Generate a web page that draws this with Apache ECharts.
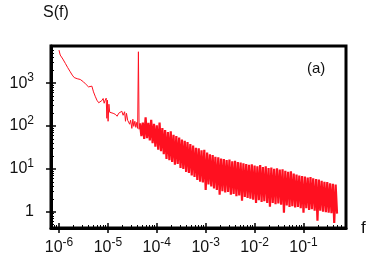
<!DOCTYPE html>
<html><head><meta charset="utf-8">
<style>html,body{margin:0;padding:0;background:#fff}#c{width:374px;height:263px}</style>
<script src="https://cdn.jsdelivr.net/npm/echarts@6/dist/echarts.min.js"></script>
</head><body><div id="c"></div>
<script>
// Low-frequency part of the spectrum (f, S(f))
const lowF = [1.00e-6, 1.06e-6, 1.20e-6, 1.35e-6, 1.51e-6, 1.70e-6, 1.87e-6, 2.05e-6, 2.36e-6, 2.72e-6,
  3.18e-6, 3.61e-6, 4.02e-6, 4.35e-6, 4.71e-6, 5.08e-6, 5.50e-6, 5.97e-6, 6.49e-6, 6.96e-6,
  7.47e-6, 8.01e-6, 8.40e-6, 8.81e-6, 9.23e-6, 9.54e-6, 9.81e-6, 1.01e-5, 1.05e-5, 1.09e-5,
  1.17e-5, 1.28e-5, 1.41e-5, 1.55e-5, 1.66e-5, 1.78e-5, 1.93e-5, 2.05e-5, 2.20e-5, 2.29e-5,
  2.40e-5, 2.54e-5, 2.66e-5, 2.79e-5, 2.92e-5, 3.09e-5, 3.24e-5, 3.39e-5, 3.56e-5, 3.73e-5,
  3.91e-5, 4.06e-5, 4.21e-5, 4.35e-5];
const lowS = [5900, 4530, 3650, 2890, 2300, 1840, 1540, 1350, 1270, 1220,
  1070, 922, 819, 873, 851, 626, 496, 400, 349, 335,
  389, 438, 340, 400, 446, 151, 400, 129, 322, 209,
  221, 198, 188, 169, 198, 178, 221, 178, 215, 129,
  198, 136, 151, 110, 136, 88, 144, 98, 129, 93,
  122, 88, 5400, 84];

// Noisy high-frequency band (f, S(f))
const bandF = [4.54e-5, 4.85e-5, 5.18e-5, 5.53e-5, 5.91e-5, 6.31e-5, 6.74e-5, 7.20e-5, 7.69e-5, 8.21e-5, 8.77e-5, 9.36e-5,
  1.00e-4, 1.07e-4, 1.14e-4, 1.22e-4, 1.30e-4, 1.39e-4, 1.48e-4, 1.58e-4, 1.69e-4, 1.81e-4, 1.93e-4, 2.06e-4,
  2.20e-4, 2.35e-4, 2.51e-4, 2.68e-4, 2.87e-4, 3.06e-4, 3.27e-4, 3.49e-4, 3.73e-4, 3.98e-4, 4.25e-4, 4.54e-4,
  4.85e-4, 5.18e-4, 5.53e-4, 5.91e-4, 6.31e-4, 6.74e-4, 7.20e-4, 7.69e-4, 8.21e-4, 8.77e-4, 9.36e-4,
  1.00e-3, 1.07e-3, 1.14e-3, 1.22e-3, 1.30e-3, 1.39e-3, 1.48e-3, 1.58e-3, 1.69e-3, 1.81e-3, 1.93e-3, 2.06e-3,
  2.20e-3, 2.35e-3, 2.51e-3, 2.68e-3, 2.87e-3, 3.06e-3, 3.27e-3, 3.49e-3, 3.73e-3, 3.98e-3, 4.25e-3, 4.54e-3,
  4.85e-3, 5.18e-3, 5.53e-3, 5.91e-3, 6.31e-3, 6.74e-3, 7.20e-3, 7.69e-3, 8.21e-3, 8.77e-3, 9.36e-3,
  1.00e-2, 1.07e-2, 1.14e-2, 1.22e-2, 1.30e-2, 1.39e-2, 1.48e-2, 1.58e-2, 1.69e-2, 1.81e-2, 1.93e-2, 2.06e-2,
  2.20e-2, 2.35e-2, 2.51e-2, 2.68e-2, 2.87e-2, 3.06e-2, 3.27e-2, 3.49e-2, 3.73e-2, 3.98e-2, 4.25e-2, 4.54e-2,
  4.85e-2, 5.18e-2, 5.53e-2, 5.91e-2, 6.31e-2, 6.74e-2, 7.20e-2, 7.69e-2, 8.21e-2, 8.77e-2, 9.36e-2,
  1.00e-1, 1.07e-1, 1.14e-1, 1.22e-1, 1.30e-1, 1.39e-1, 1.48e-1, 1.58e-1, 1.69e-1, 1.81e-1, 1.93e-1, 2.06e-1,
  2.20e-1, 2.35e-1, 2.51e-1, 2.68e-1, 2.87e-1, 3.06e-1, 3.27e-1, 3.49e-1, 3.73e-1, 3.98e-1, 4.25e-1, 4.54e-1,
  4.85e-1];
const bandS = [115, 58, 120, 50, 160, 52, 118, 46, 140, 40, 112, 33,
  104, 28, 120, 26, 90, 22, 80, 17, 72, 16, 75, 14.5,
  62, 12.5, 58, 13, 54, 10.5, 48, 10, 45, 8.5, 42, 8,
  38, 7, 35, 6.5, 31, 5.5, 30, 5.0, 27, 4.8, 28,
  3.2, 24, 4.3, 22, 3.9, 21, 3.5, 19, 3.2, 18.5, 2.5, 17.5,
  3.0, 17, 2.8, 16, 2.9, 16.5, 2.5, 15, 2.6, 15.5, 2.3, 14.5,
  2.4, 14, 1.8, 13.5, 2.2, 13, 2.1, 12.5, 2.0, 12.8, 1.9,
  12, 1.6, 11.5, 1.85, 12.2, 1.7, 11, 1.75, 11.5, 1.6, 10.5, 1.3,
  10.8, 1.6, 10, 1.5, 10.3, 1.55, 9.6, 1.45, 9.8, 0.95, 9.0, 1.4,
  8.5, 1.3, 8.8, 1.35, 7.8, 1.25, 7.4, 1.3, 7.0, 1.2, 6.8,
  0.95, 6.6, 1.2, 6.3, 1.1, 6.4, 1.15, 6.0, 1.05, 5.8, 0.62, 5.6,
  1.05, 5.3, 1.0, 5.0, 0.98, 4.9, 0.95, 4.6, 0.92, 4.5, 0.55, 4.3,
  0.9];

// Axis ticks and labels
const xTicks = [1e-6, 1e-5, 1e-4, 1e-3, 1e-2, 1e-1];
const xTickExp = ['-6', '-5', '-4', '-3', '-2', '-1'];
const xMinor = [8e-7, 9e-7,
  2e-6, 3e-6, 4e-6, 5e-6, 6e-6, 7e-6, 8e-6, 9e-6,
  2e-5, 3e-5, 4e-5, 5e-5, 6e-5, 7e-5, 8e-5, 9e-5,
  2e-4, 3e-4, 4e-4, 5e-4, 6e-4, 7e-4, 8e-4, 9e-4,
  2e-3, 3e-3, 4e-3, 5e-3, 6e-3, 7e-3, 8e-3, 9e-3,
  2e-2, 3e-2, 4e-2, 5e-2, 6e-2, 7e-2, 8e-2, 9e-2,
  2e-1, 3e-1, 4e-1, 5e-1, 6e-1];
const yTicks = [1, 10, 100, 1000];
const yTickBase = ['1', '10', '10', '10'];
const yTickExp = ['', '1', '2', '3'];
const yMinor = [0.5, 0.6, 0.7, 0.8, 0.9,
  2, 3, 4, 5, 6, 7, 8, 9,
  20, 30, 40, 50, 60, 70, 80, 90,
  200, 300, 400, 500, 600, 700, 800, 900,
  2000, 3000, 4000, 5000, 6000];

const X_MIN = Math.pow(10, -6.163), X_MAX = Math.pow(10, -0.131);
const Y_MIN = Math.pow(10, -0.38), Y_MAX = Math.pow(10, 3.867);
const FONT = '"Liberation Sans", Arial, sans-serif';
const TXT = '#111';
const RED = '#ff1020';
const rich = {
  b: { fontSize: 16, lineHeight: 22, fontFamily: FONT, color: TXT },
  s: { fontSize: 12, lineHeight: 10, verticalAlign: 'top', fontFamily: FONT, color: TXT }
};
function idxOf(arr, v) {
  for (let i = 0; i < arr.length; i++) if (Math.abs(arr[i] - v) <= arr[i] * 1e-3) return i;
  return -1;
}

const lowData = lowF.map((f, i) => [f, lowS[i]]).concat([[bandF[0], bandS[0]]]);
const bandData = bandF.map((f, i) => [f, bandS[i]]);

function tickAxis(dim, values, inside, length, width) {
  const isX = dim === 'x';
  return {
    type: 'log', logBase: 10,
    min: isX ? X_MIN : Y_MIN, max: isX ? X_MAX : Y_MAX,
    position: isX ? 'bottom' : 'left', offset: 0,
    axisLine: { show: false, onZero: false },
    axisTick: { show: true, inside: inside, length: length, customValues: values,
      lineStyle: { color: '#000', width: width } },
    axisLabel: { show: false },
    splitLine: { show: false }, minorTick: { show: false }, minorSplitLine: { show: false }
  };
}

const chart = echarts.init(document.getElementById('c'), null, { renderer: 'canvas' });
chart.setOption({
  animation: false,
  backgroundColor: '#fff',
  title: { text: 'S(f)', left: 43, top: 5, padding: 0,
    textStyle: { fontSize: 16, fontWeight: 'normal', fontFamily: FONT, color: TXT } },
  grid: { left: 51, right: 28, top: 46, bottom: 35, containLabel: false, outerBoundsMode: 'none',
    show: true, borderColor: '#000', borderWidth: 3, backgroundColor: 'transparent' },
  graphic: [{ type: 'text', left: 307, top: 61,
    style: { text: '(a)', fontSize: 15, fontFamily: FONT, fill: TXT } }],
  xAxis: [
    {
      type: 'log', logBase: 10, min: X_MIN, max: X_MAX, position: 'bottom', offset: 0,
      axisLine: { show: true, onZero: false, lineStyle: { color: '#000', width: 3 } },
      axisTick: { show: true, inside: false, length: 5, customValues: xTicks,
        lineStyle: { color: '#000', width: 1.5 } },
      axisLabel: { show: true, customValues: xTicks, margin: 9, rich: rich,
        formatter: function (v) { const i = idxOf(xTicks, v); return i < 0 ? '' : '{b|10}{s|' + xTickExp[i] + '}'; } },
      splitLine: { show: false }, minorTick: { show: false },
      name: 'f', nameLocation: 'end', nameGap: 15,
      nameTextStyle: { fontSize: 17, fontFamily: FONT, color: TXT }
    },
    tickAxis('x', xTicks, true, 5, 1.5),
    tickAxis('x', xMinor, true, 3, 1)
  ],
  yAxis: [
    {
      type: 'log', logBase: 10, min: Y_MIN, max: Y_MAX, position: 'left', offset: 0,
      axisLine: { show: true, onZero: false, lineStyle: { color: '#000', width: 3 } },
      axisTick: { show: true, inside: false, length: 5, customValues: yTicks,
        lineStyle: { color: '#000', width: 1.5 } },
      axisLabel: { show: true, customValues: yTicks, margin: 17, rich: rich,
        formatter: function (v) { const i = idxOf(yTicks, v); if (i < 0) return '';
          return '{b|' + yTickBase[i] + '}' + (yTickExp[i] ? '{s|' + yTickExp[i] + '}' : ''); } },
      splitLine: { show: false }, minorTick: { show: false }
    },
    tickAxis('y', yTicks, true, 5, 1.5),
    tickAxis('y', yMinor, true, 3, 1)
  ],
  series: [{
    type: 'line', xAxisIndex: 0, yAxisIndex: 0, data: lowData,
    symbol: 'none', showSymbol: false,
    lineStyle: { color: RED, width: 1 }, itemStyle: { color: RED }, z: 1
  }, {
    type: 'line', xAxisIndex: 0, yAxisIndex: 0, data: bandData,
    symbol: 'none', showSymbol: false,
    lineStyle: { color: RED, width: 2.2, join: 'miter', miterLimit: 4 }, itemStyle: { color: RED }, z: 1
  }]
});
</script></body></html>
